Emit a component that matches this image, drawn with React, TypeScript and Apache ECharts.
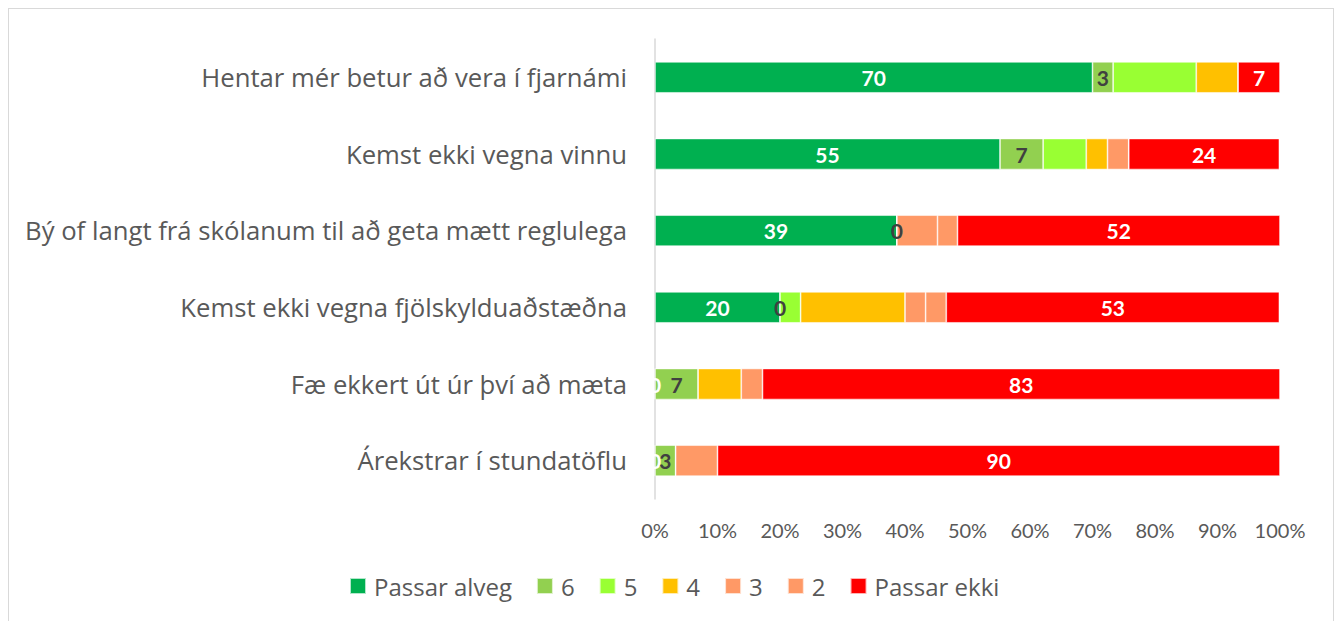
import React, { useEffect, useRef } from "react";
import * as echarts from "echarts";

const categories = [
  "Hentar mér betur að vera í fjarnámi",
  "Kemst ekki vegna vinnu",
  "Bý of langt frá skólanum til að geta mætt reglulega",
  "Kemst ekki vegna fjölskylduaðstæðna",
  "Fæ ekkert út úr því að mæta",
  "Árekstrar í stundatöflu",
];

const passarAlveg = [70.0, 55.2, 38.7, 20.0, 0, 0];
const s6 = [3.3, 6.9, 0, 0, 6.9, 3.3];
const s5 = [13.3, 6.9, 0, 3.3, 0, 0];
const s4 = [6.7, 3.4, 0, 16.7, 6.9, 0];
const s3 = [0, 3.4, 6.5, 3.3, 3.4, 6.7];
const s2 = [0, 0, 3.2, 3.3, 0, 0];
const passarEkki = [6.7, 24.1, 51.6, 53.3, 82.8, 90.0];

const xTicks = [0, 10, 20, 30, 40, 50, 60, 70, 80, 90, 100];

const seriesDefs = [
  { name: "Passar alveg", data: passarAlveg, color: "#00B050", label: true, labelColor: "#FFFFFF" },
  { name: "6", data: s6, color: "#92D050", label: true, labelColor: "#404040" },
  { name: "5", data: s5, color: "#99FF33", label: false, labelColor: "#404040" },
  { name: "4", data: s4, color: "#FFC000", label: false, labelColor: "#404040" },
  { name: "3", data: s3, color: "#FF9966", label: false, labelColor: "#404040" },
  { name: "2", data: s2, color: "#FF9966", label: false, labelColor: "#404040" },
  { name: "Passar ekki", data: passarEkki, color: "#FF0000", label: true, labelColor: "#FFFFFF" },
];

const FONT = "Lato, 'Open Sans', sans-serif";
const WIDE = "'Open Sans', Lato, sans-serif";

export default function App() {
  const ref = useRef<HTMLDivElement>(null);

  useEffect(() => {
    if (!ref.current) return;
    const chart = echarts.init(ref.current, undefined, { renderer: "svg" });
    chart.setOption({
      animation: false,
      backgroundColor: "#FFFFFF",
      textStyle: { fontFamily: FONT },
      grid: { left: 646, right: 53, top: 30, bottom: 122, containLabel: false },
      xAxis: {
        type: "value",
        min: xTicks[0],
        max: xTicks[xTicks.length - 1],
        interval: 10,
        axisLine: { show: false },
        axisTick: { show: false },
        splitLine: { show: false },
        axisLabel: {
          formatter: "{value}%",
          color: "#595959",
          fontSize: 20,
          fontFamily: FONT,
          margin: 21,
        },
      },
      yAxis: {
        type: "category",
        inverse: true,
        data: categories,
        axisLine: { show: true, lineStyle: { color: "#D9D9D9", width: 1.5 } },
        axisTick: { show: false },
        axisLabel: {
          color: "#595959",
          fontSize: 25.7,
          fontFamily: WIDE,
          margin: 28,
        },
      },
      legend: {
        left: 335,
        top: 560,
        itemWidth: 16,
        itemHeight: 16,
        itemGap: 24,
        icon: "rect",
        textStyle: { color: "#595959", fontSize: 24, fontFamily: WIDE, padding: [0, 0, 0, 3] },
        data: seriesDefs.map((s) => s.name),
      },
      series: seriesDefs.map((s) => ({
        name: s.name,
        type: "bar",
        stack: "total",
        barWidth: 31,
        data: s.data,
        itemStyle: { color: s.color, borderColor: "rgba(255,255,255,0.7)", borderWidth: 0.75 },
        label: {
          show: s.label,
          position: "inside",
          color: s.labelColor,
          fontSize: 21,
          fontWeight: "bold",
          fontFamily: FONT,
          formatter: (p: any) => String(Math.round(p.value)),
        },
      })),
    });
    return () => chart.dispose();
  }, []);

  return (
    <div
      style={{
        position: "absolute",
        left: 8,
        top: 8,
        width: 1326,
        height: 613,
        boxSizing: "border-box",
        borderTop: "1px solid #D9D9D9",
        borderLeft: "1px solid #D9D9D9",
        borderRight: "1px solid #D9D9D9",
        background: "#FFFFFF",
      }}
    >
      <div ref={ref} style={{ width: 1324, height: 612 }} />
    </div>
  );
}
